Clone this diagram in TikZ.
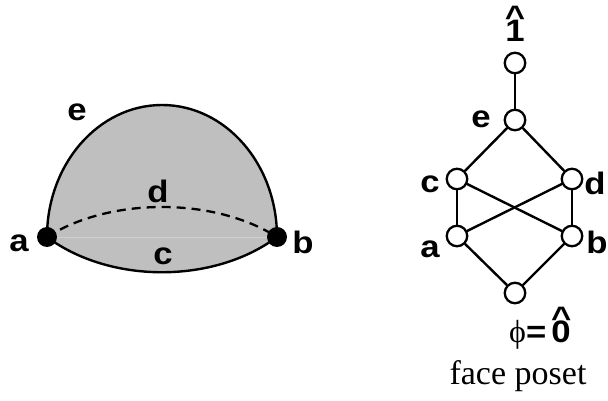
\documentclass[tikz,border=0pt]{standalone}
\usepackage{fontspec}
\setmainfont{Liberation Serif}
\newfontfamily\lblfont{Liberation Sans}[FakeStretch=1.12]

% 带帽的数字（\hat{0}、\hat{1}）
\newcommand\hatted[2][0.48em]{\ooalign{#2\cr\hidewidth\raisebox{#1}{\textasciicircum}\hidewidth\cr}}

\begin{document}
\begin{tikzpicture}[x=1pt,y=1pt,line cap=round,line join=round,
  lbl/.style={font=\lblfont\bfseries\fontsize{31}{31}\selectfont,inner sep=0pt},
  vtx/.style={circle,draw,line width=2.3pt,fill=white,minimum size=20.5pt,inner sep=0pt},
  edge/.style={line width=2.4pt}]

\useasboundingbox (0,0) rectangle (608,401);

% 左图：半圆盘（两个顶点 a,b，三条边 c,d,e）
\coordinate (pa) at (47,164);
\coordinate (pb) at (277,164);

\fill[gray!50] (pa) arc[start angle=180,end angle=0,x radius=115,y radius=132]
  .. controls (214,117) and (110,117) .. cycle;
\draw[gray!38,line width=0.8pt] (pa) -- (pb);
\draw[edge] (pa) arc[start angle=180,end angle=0,x radius=115,y radius=132];
\draw[edge] (pa) .. controls (110,117) and (214,117) .. (pb);
\draw[line width=2.3pt,line cap=butt,dash pattern=on 9pt off 6pt]
  (pa) .. controls (110,204) and (214,204) .. (pb);

\fill (pa) circle (10);
\fill (pb) circle (10);

\node[lbl] (le) at (77,289) {e};
\node[lbl] (ld) at (158,210) {d};
\node[lbl] (lc) at (163,145) {c};
\node[lbl] (la) at (19,158) {a};
\node[lbl] (lb) at (303,159) {b};

% 右图：面偏序集
\node[vtx] (one)  at (515,338) {};
\node[vtx] (e)    at (515,281) {};
\node[vtx] (c)    at (457,222) {};
\node[vtx] (d)    at (572,222) {};
\node[vtx] (a)    at (457,165) {};
\node[vtx] (b)    at (572,165) {};
\node[vtx] (zero) at (515,108) {};

\draw[edge] (one) -- (e);
\draw[edge] (e) -- (c);
\draw[edge] (e) -- (d);
\draw[edge] (c) -- (a);
\draw[edge] (c) -- (b);
\draw[edge] (d) -- (a);
\draw[edge] (d) -- (b);
\draw[edge] (a) -- (zero);
\draw[edge] (b) -- (zero);

\node[lbl,anchor=base] (tone) at (515,359) {\hatted{1}};
\node[lbl] (te) at (481,282) {e};
\node[lbl] (tc) at (430,217) {c};
\node[lbl] (td) at (595,218) {d};
\node[lbl] (ta) at (430,152) {a};
\node[lbl] (tb) at (597,159) {b};
\node[lbl,anchor=base] (tzero) at (540,58)
  {{\rmfamily\mdseries\fontsize{32}{32}\selectfont ϕ}=\,\hatted{0}};

\node[font=\fontsize{34}{34}\selectfont,anchor=base,inner sep=0pt] (cap) at (518,16) {face poset};

\end{tikzpicture}
\end{document}
